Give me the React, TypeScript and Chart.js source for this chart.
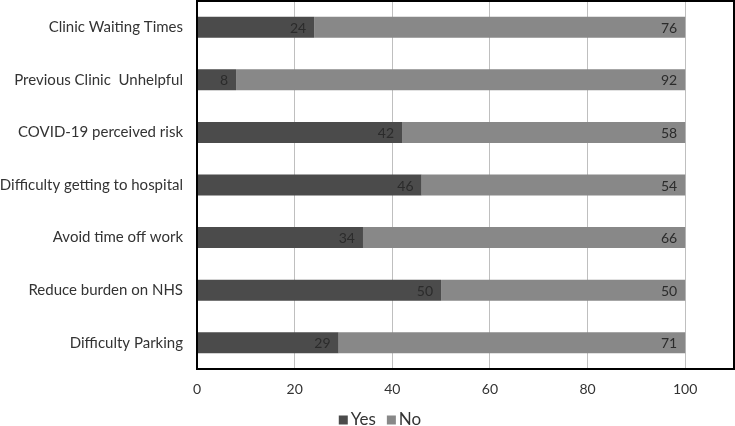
import React, { useEffect, useRef } from "react";
import { Chart, registerables } from "chart.js";

Chart.register(...registerables);

const categories = [
  "Clinic Waiting Times",
  "Previous Clinic  Unhelpful",
  "COVID-19 perceived risk",
  "Difficulty getting to hospital",
  "Avoid time off work",
  "Reduce burden on NHS",
  "Difficulty Parking",
];
const yesValues = [24, 8, 42, 46, 34, 50, 29];
const noValues = [76, 92, 58, 54, 66, 50, 71];
const xTicks = [0, 20, 40, 60, 80, 100];

const FONT = "Lato, 'Open Sans', sans-serif";
const TEXT = "#333333";

const dataLabels = {
  id: "dataLabels",
  afterDatasetsDraw(chart: any) {
    const ctx = chart.ctx;
    ctx.save();
    ctx.font = `14px ${FONT}`;
    ctx.fillStyle = "#2b2b2b";
    ctx.textAlign = "right";
    ctx.textBaseline = "middle";
    chart.data.datasets.forEach((ds: any, i: number) => {
      const meta = chart.getDatasetMeta(i);
      meta.data.forEach((bar: any, j: number) => {
        ctx.fillText(String(ds.data[j]), bar.x - 8, bar.y + 1);
      });
    });
    ctx.restore();
  },
};

const frame = {
  id: "frame",
  afterDraw(chart: any) {
    const { left, right, top, bottom } = chart.chartArea;
    const ctx = chart.ctx;
    ctx.save();
    ctx.strokeStyle = "#000000";
    ctx.lineWidth = 2;
    ctx.strokeRect(left, top, right - left, bottom - top);
    ctx.restore();
  },
};

const customLegend = {
  id: "customLegend",
  afterDraw(chart: any) {
    const ctx = chart.ctx;
    ctx.save();
    ctx.font = `17px ${FONT}`;
    ctx.textBaseline = "middle";
    ctx.textAlign = "left";
    const box = 9;
    const gapText = 3;
    const gapItem = 11;
    const items = chart.data.datasets.map((ds: any) => ({
      label: ds.label,
      color: ds.backgroundColor,
      w: box + gapText + ctx.measureText(ds.label).width,
    }));
    const total = items.reduce((a: number, it: any) => a + it.w, 0) + gapItem * (items.length - 1);
    let x = 380 - total / 2;
    const cy = 420;
    items.forEach((it: any) => {
      ctx.fillStyle = it.color;
      ctx.fillRect(x, cy - box / 2, box, box);
      ctx.fillStyle = TEXT;
      ctx.fillText(it.label, x + box + gapText, cy);
      x += it.w + gapItem;
    });
    ctx.restore();
  },
};

export default function App() {
  const ref = useRef<HTMLCanvasElement>(null);
  useEffect(() => {
    document.body.style.margin = "0";
    const chart = new Chart(ref.current!, {
      type: "bar",
      data: {
        labels: categories,
        datasets: [
          {
            label: "Yes",
            data: yesValues,
            backgroundColor: "#4b4b4b",
            barPercentage: 0.8,
            categoryPercentage: 0.5,
          },
          {
            label: "No",
            data: noValues,
            backgroundColor: "#888888",
            barPercentage: 0.8,
            categoryPercentage: 0.5,
          },
        ],
      },
      options: {
        indexAxis: "y",
        animation: false,
        responsive: false,
        maintainAspectRatio: false,
        layout: { padding: { top: 1, right: 1, left: 0, bottom: 0 } },
        scales: {
          x: {
            stacked: true,
            min: 0,
            max: 110,
            afterBuildTicks: (s: any) => {
              s.ticks = xTicks.map((v) => ({ value: v }));
            },
            afterFit: (s: any) => {
              s.height = 57;
              s.paddingLeft = 0;
              s.paddingRight = 0;
            },
            grid: {
              color: (c: any) => (c.tick && c.tick.value === 0 ? "rgba(0,0,0,0)" : "#bfbfbf"),
              lineWidth: 1,
              drawTicks: false,
            },
            border: { display: false },
            ticks: {
              font: { family: FONT, size: 14 },
              color: TEXT,
              padding: 12,
            },
          },
          y: {
            stacked: true,
            afterFit: (s: any) => {
              s.width = 197;
              s.paddingTop = 0;
              s.paddingBottom = 0;
            },
            grid: { display: false, drawTicks: false },
            border: { display: false },
            ticks: {
              font: { family: FONT, size: 15 },
              color: TEXT,
              padding: 14,
            },
          },
        },
        plugins: {
          legend: { display: false },
          tooltip: { enabled: false },
        },
      },
      plugins: [dataLabels, frame, customLegend],
    });
    return () => chart.destroy();
  }, []);
  return (
    <div style={{ position: "absolute", left: 0, top: 0, width: 735, height: 426 }}>
      <canvas ref={ref} width={735} height={426} />
    </div>
  );
}
